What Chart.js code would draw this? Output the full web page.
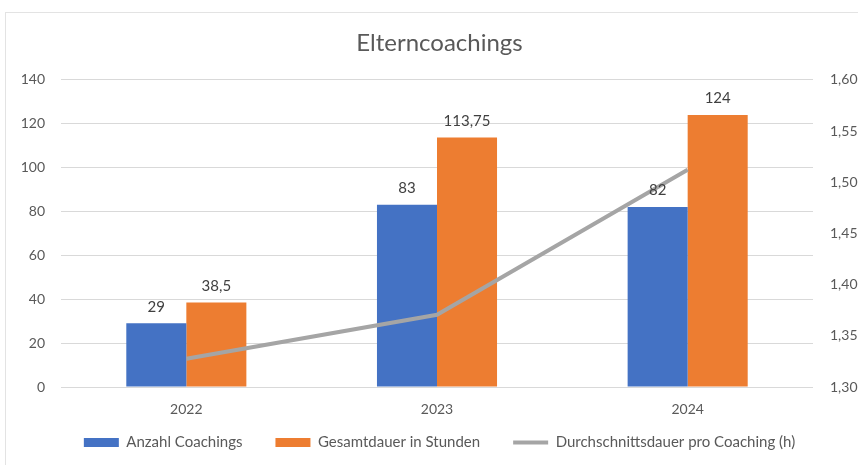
<!DOCTYPE html>
<html>
<head>
<meta charset="utf-8">
<script src="https://cdn.jsdelivr.net/npm/chart.js@4.4.1/dist/chart.umd.min.js"></script>
<style>
  html, body { margin: 0; padding: 0; background: #fff; }
  #wrap { position: relative; width: 858px; height: 465px; }
</style>
</head>
<body>
<div id="wrap"><canvas id="myChart" width="858" height="465"></canvas></div>
<script>
// values
const years = ["2022", "2023", "2024"];
const anzahl = [29, 83, 82];
const gesamtdauer = [38.5, 113.75, 124];
const durchschnitt = [1.3276, 1.3705, 1.5122];
const leftTicks = [0, 20, 40, 60, 80, 100, 120, 140];
const rightTicks = [1.30, 1.35, 1.40, 1.45, 1.50, 1.55, 1.60];

const textColor = "#595959";
const fontFamily = "Lato, 'Noto Sans', sans-serif";

const deNum = v => v.toLocaleString("de-DE");

// frame + white background
const framePlugin = {
  id: "frame",
  beforeDraw(chart) {
    const c = chart.ctx;
    c.save();
    c.fillStyle = "#fff";
    c.fillRect(0, 0, chart.width, chart.height);
    c.strokeStyle = "#e3e3e3";
    c.lineWidth = 1;
    c.strokeRect(5.5, 12.5, chart.width, chart.height);
    c.restore();
  }
};

// value labels above the bars
const barLabels = {
  id: "barLabels",
  afterDatasetsDraw(chart) {
    const c = chart.ctx;
    c.save();
    c.font = "15px " + fontFamily;
    c.fillStyle = "#404040";
    c.textAlign = "center";
    c.textBaseline = "bottom";
    [0, 1].forEach(di => {
      const meta = chart.getDatasetMeta(di);
      meta.data.forEach((bar, i) => {
        c.fillText(deNum(chart.data.datasets[di].data[i]), bar.x, bar.y - 9);
      });
    });
    c.restore();
  }
};

new Chart("myChart", {
  type: "bar",
  data: {
    labels: years,
    datasets: [
      {
        label: "Anzahl Coachings",
        data: anzahl,
        backgroundColor: "#4472C4",
        yAxisID: "y",
        order: 1
      },
      {
        label: "Gesamtdauer in Stunden",
        data: gesamtdauer,
        backgroundColor: "#ED7D31",
        yAxisID: "y",
        order: 1
      },
      {
        type: "line",
        label: "Durchschnittsdauer pro Coaching (h)",
        data: durchschnitt,
        borderColor: "#A5A5A5",
        backgroundColor: "#A5A5A5",
        borderWidth: 4,
        pointRadius: 0,
        tension: 0,
        yAxisID: "y1",
        order: 0
      }
    ]
  },
  options: {
    responsive: false,
    animation: false,
    devicePixelRatio: 1,
    layout: { padding: { left: 21, right: 0, top: 0, bottom: 5 } },
    datasets: {
      bar: { categoryPercentage: 0.479, barPercentage: 1 }
    },
    scales: {
      x: {
        grid: { display: false, drawTicks: false },
        border: { display: false },
        ticks: { color: textColor, font: { size: 14, family: fontFamily }, padding: 14 },
        afterFit: s => {
          s.height = 15;
          // labels sit below this short box, so don't clip them to it
          s._computeLabelArea = () => undefined;
        }
      },
      y: {
        position: "left",
        min: 0,
        max: 140,
        afterBuildTicks: s => { s.ticks = leftTicks.map(v => ({ value: v })); },
        grid: { color: "#d9d9d9", drawTicks: false },
        border: { display: false },
        ticks: { color: textColor, font: { size: 14, family: fontFamily }, padding: 16 },
        afterFit: s => { s.width = 40; }
      },
      y1: {
        position: "right",
        min: 1.30,
        max: 1.60,
        afterBuildTicks: s => { s.ticks = rightTicks.map(v => ({ value: v })); },
        grid: { display: false },
        border: { display: false },
        ticks: {
          color: textColor,
          font: { size: 14, family: fontFamily },
          padding: 9,
          callback: v => v.toFixed(2).replace(".", ",")
        },
        afterFit: s => { s.width = 45; }
      }
    },
    plugins: {
      title: {
        display: true,
        text: "Elterncoachings",
        color: textColor,
        font: { size: 24, family: fontFamily, weight: "normal" },
        padding: { top: 29, bottom: 22 }
      },
      legend: {
        position: "bottom",
        labels: {
          color: textColor,
          font: { size: 15, family: fontFamily },
          usePointStyle: true,
          pointStyleWidth: 35,
          boxHeight: 9,
          padding: 33,
          sort: (a, b) => a.datasetIndex - b.datasetIndex,
          generateLabels: chart => {
            const items = Chart.defaults.plugins.legend.labels.generateLabels(chart);
            items.forEach(it => {
              it.pointStyle = it.datasetIndex === 2 ? "line" : "rect";
            });
            return items;
          }
        }
      },
      tooltip: { enabled: false }
    }
  },
  plugins: [framePlugin, barLabels]
});
</script>
</body>
</html>
